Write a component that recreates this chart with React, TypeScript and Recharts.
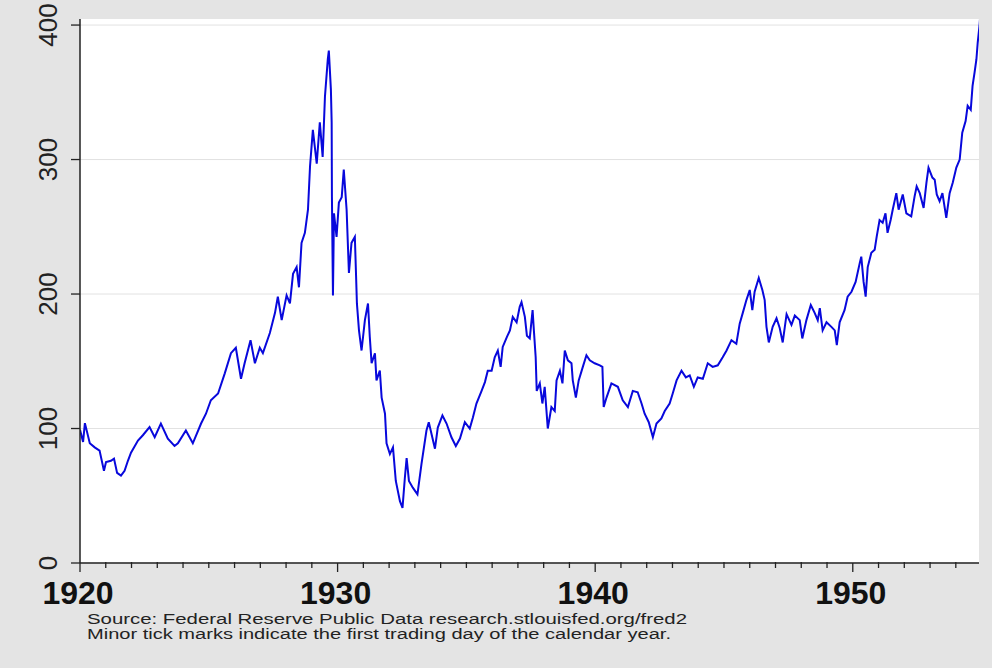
import React from 'react';
import { LineChart, Line, XAxis, YAxis, CartesianGrid } from 'recharts';

// Decimal year of each reading
const years = [
  1920.0, 1920.12, 1920.19, 1920.38, 1920.57, 1920.76, 1920.93, 1921.01, 1921.2, 1921.32,
  1921.44, 1921.59, 1921.73, 1921.86, 1921.98, 1922.25, 1922.44, 1922.7, 1922.9, 1923.14,
  1923.41, 1923.67, 1923.8, 1924.11, 1924.38, 1924.7, 1924.89, 1925.08, 1925.36, 1925.62,
  1925.86, 1926.05, 1926.25, 1926.39, 1926.62, 1926.79, 1926.98, 1927.1, 1927.37, 1927.57,
  1927.68, 1927.83, 1928.02, 1928.15, 1928.27, 1928.41, 1928.5, 1928.6, 1928.73, 1928.85,
  1928.93, 1929.04, 1929.19, 1929.31, 1929.42, 1929.51, 1929.62, 1929.66, 1929.74, 1929.77,
  1929.78, 1929.82, 1929.86, 1929.96, 1930.05, 1930.16, 1930.24, 1930.35, 1930.44, 1930.54,
  1930.67, 1930.71, 1930.75, 1930.83, 1930.93, 1931.06, 1931.18, 1931.25, 1931.32, 1931.45,
  1931.51, 1931.64, 1931.71, 1931.84, 1931.9, 1932.03, 1932.15, 1932.26, 1932.42, 1932.52,
  1932.61, 1932.68, 1932.77, 1932.92, 1933.1, 1933.26, 1933.45, 1933.54, 1933.78, 1933.89,
  1934.07, 1934.23, 1934.42, 1934.59, 1934.75, 1934.94, 1935.13, 1935.25, 1935.39, 1935.59,
  1935.72, 1935.83, 1935.98, 1936.1, 1936.22, 1936.33, 1936.41, 1936.57, 1936.69, 1936.8,
  1936.95, 1937.07, 1937.14, 1937.27, 1937.35, 1937.46, 1937.57, 1937.62, 1937.69, 1937.73,
  1937.85, 1937.95, 1938.04, 1938.16, 1938.3, 1938.43, 1938.5, 1938.63, 1938.73, 1938.82,
  1938.94, 1939.08, 1939.13, 1939.25, 1939.36, 1939.52, 1939.66, 1939.79, 1939.98, 1940.18,
  1940.28, 1940.33, 1940.44, 1940.63, 1940.88, 1941.07, 1941.27, 1941.46, 1941.65, 1941.8,
  1941.92, 1942.08, 1942.24, 1942.38, 1942.57, 1942.7, 1942.89, 1943.01, 1943.16, 1943.35,
  1943.52, 1943.67, 1943.83, 1943.98, 1944.18, 1944.37, 1944.56, 1944.76, 1944.95, 1945.1,
  1945.29, 1945.48, 1945.61, 1945.73, 1945.87, 1946.0, 1946.1, 1946.19, 1946.35, 1946.49,
  1946.58, 1946.65, 1946.74, 1946.89, 1947.04, 1947.16, 1947.28, 1947.43, 1947.62, 1947.75,
  1947.94, 1948.04, 1948.2, 1948.37, 1948.52, 1948.64, 1948.72, 1948.83, 1948.98, 1949.17,
  1949.3, 1949.38, 1949.49, 1949.68, 1949.8, 1949.95, 1950.11, 1950.27, 1950.33, 1950.42,
  1950.5, 1950.58, 1950.72, 1950.85, 1950.93, 1951.04, 1951.16, 1951.27, 1951.35, 1951.47,
  1951.55, 1951.69, 1951.78, 1951.94, 1952.08, 1952.27, 1952.4, 1952.48, 1952.6, 1952.75,
  1952.86, 1952.94, 1953.09, 1953.18, 1953.26, 1953.37, 1953.48, 1953.57, 1953.63, 1953.76,
  1953.88, 1954.02, 1954.15, 1954.25, 1954.38, 1954.46, 1954.58, 1954.65, 1954.73, 1954.8,
  1954.85, 1954.92, 1954.96,
];

// Index level
const dowValues = [
  99, 90, 104, 89, 86, 83.6, 68.6, 75, 76, 77.6,
  67, 65, 68.6, 76, 82, 91, 95, 101, 93.5, 103.7,
  92.5, 87, 89, 98.5, 89, 103.7, 111, 121, 126, 141,
  156, 160, 137, 148.5, 165.7, 148.5, 160, 156, 171, 186,
  198, 180.6, 199, 193, 215, 220, 205, 238, 245.5, 262.7,
  295, 322, 297, 327.6, 302, 347, 374.6, 381, 352, 327.6,
  272, 199, 260, 242.5, 268, 272, 292.5, 262.7, 215.7, 238,
  242.5, 218, 193, 173, 158, 180.6, 193, 168, 148.5, 156,
  135.8, 143, 123, 111, 89, 81, 86, 61, 46, 41,
  63, 78, 61, 56, 51, 74, 98.5, 104.7, 85, 100.7,
  109.7, 103.7, 93.5, 87, 92.5, 104.7, 100, 108, 118.6, 128,
  134.5, 143, 143, 153, 158, 145.8, 160.7, 168, 173, 183,
  179, 190.5, 194, 183, 169, 167, 188, 173, 153, 128,
  133.6, 118.6, 131, 100, 116, 113, 135.8, 143, 133.6, 158,
  150.7, 148.5, 135.8, 123, 135.8, 145.8, 154.5, 150.7, 148.5, 147,
  145.8, 116, 123, 133.6, 131, 121, 116, 128, 127, 118.6,
  111, 104.7, 93.5, 103.7, 107.5, 113, 118.6, 126, 135.8, 143,
  138, 139.5, 131, 138, 137, 148.5, 145.8, 147, 153, 158,
  165.7, 163, 178, 186, 195.5, 203, 188, 201.7, 212, 203,
  195.5, 175.6, 164, 175.6, 182, 175, 164, 185, 177, 184,
  180.6, 167, 180.6, 191.8, 186, 180.6, 189.5, 173, 179, 175.6,
  173, 162, 179, 188, 198, 201.7, 209, 223, 227.8, 209,
  198, 220, 230.6, 233, 242.8, 255, 253, 260, 245.5, 255,
  262.7, 275, 262.7, 274, 260, 257.7, 272.6, 280, 275, 264,
  282.8, 294, 286.6, 285, 274, 269, 275, 264, 256.7, 275,
  282.8, 294, 300, 320, 328.6, 340, 337, 354.7, 365, 374.6,
  387, 399.5, 410,
];

const yTicks = [0, 100, 200, 300, 400];
const majorYears = [1920, 1930, 1940, 1950];
const yearTicks = [
  1920, 1921, 1922, 1923, 1924, 1925, 1926, 1927, 1928, 1929,
  1930, 1931, 1932, 1933, 1934, 1935, 1936, 1937, 1938, 1939,
  1940, 1941, 1942, 1943, 1944, 1945, 1946, 1947, 1948, 1949,
  1950, 1951, 1952, 1953, 1954,
];
const sourceLines = [
  'Source: Federal Reserve Public Data research.stlouisfed.org/fred2',
  'Minor tick marks indicate the first trading day of the calendar year.',
];

const data = years.map((year, i) => ({ year, dow: dowValues[i] }));

const FONT = '"Liberation Sans", Arial, Helvetica, sans-serif';

const XTick = (props: any) => {
  const { x, y, payload } = props;
  const v = payload.value;
  const major = majorYears.includes(v);
  return (
    <g>
      <line x1={x} x2={x} y1={major ? y : y - 1} y2={y + (major ? 9 : 5)} stroke="#222" strokeWidth={1.3} />
      {major && (
        <text x={x - 2} y={y + 41} textAnchor="middle" fontSize={32} fontWeight="bold" fontFamily={FONT} fill="#111">
          {v}
        </text>
      )}
    </g>
  );
};

const YTick = (props: any) => {
  const { x, y, payload } = props;
  return (
    <text
      x={x}
      y={y}
      transform={`rotate(-90, ${x}, ${y})`}
      textAnchor="middle"
      fontSize={26}
      fontFamily={FONT}
      fill="#222"
    >
      {payload.value}
    </text>
  );
};

export default function App() {
  return (
    <div style={{ position: 'absolute', left: 0, top: 0, width: 992, height: 668, background: '#e4e4e4' }}>
      <LineChart width={992} height={668} data={data} margin={{ top: 19, right: 13, left: 0, bottom: 45 }}>
        <CartesianGrid vertical={false} horizontalValues={yTicks} stroke="#e2e2e2" fill="#ffffff" />
        <XAxis
          type="number"
          dataKey="year"
          domain={[1920, 1954.9]}
          allowDataOverflow
          ticks={yearTicks}
          interval={0}
          tickSize={0}
          tickMargin={0}
          tickLine={false}
          tick={<XTick />}
          height={60}
          axisLine={{ stroke: '#222', strokeWidth: 1.5 }}
        />
        <YAxis
          type="number"
          domain={[0, 404.5]}
          allowDataOverflow
          ticks={yTicks}
          interval={0}
          width={80}
          tickSize={9}
          tickMargin={14}
          tickLine={{ stroke: '#222', strokeWidth: 1.3 }}
          tick={<YTick />}
          axisLine={{ stroke: '#222', strokeWidth: 1.5 }}
        />
        <Line
          type="linear"
          dataKey="dow"
          stroke="#0808dc"
          strokeWidth={2}
          dot={false}
          isAnimationActive={false}
        />
      </LineChart>
      <svg width={992} height={668} style={{ position: 'absolute', left: 0, top: 0, pointerEvents: 'none' }}>
        {sourceLines.map((s, i) => (
          <text
            key={i}
            x={87}
            y={624 + i * 15}
            fontSize={14}
            fontFamily={FONT}
            fill="#222"
            textLength={i === 0 ? 600 : 584}
            lengthAdjust="spacingAndGlyphs"
          >
            {s}
          </text>
        ))}
      </svg>
    </div>
  );
}
